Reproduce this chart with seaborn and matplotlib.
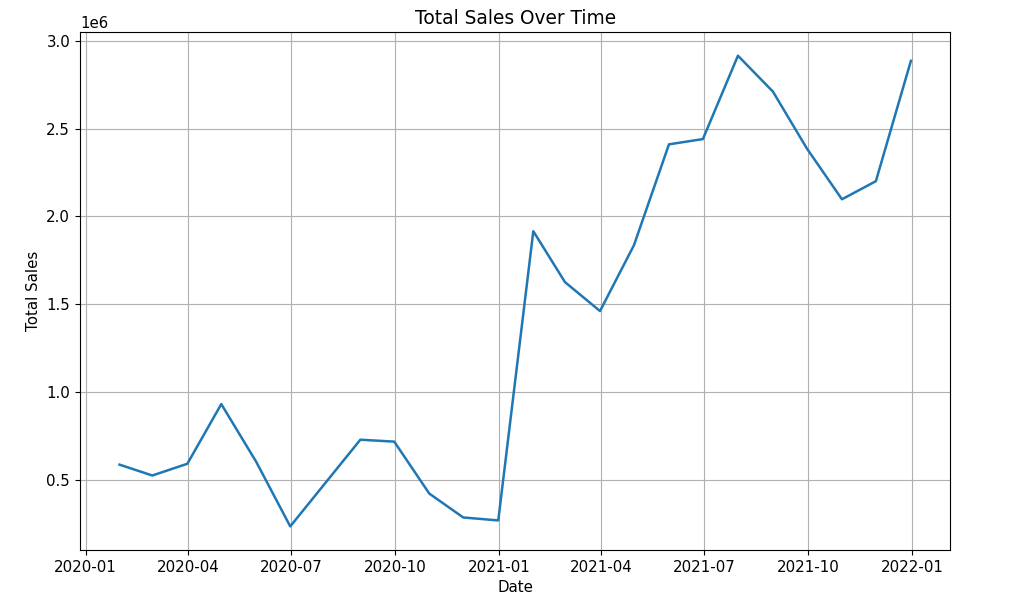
import matplotlib

matplotlib.use("Agg")

import matplotlib.pyplot as plt
import pandas as pd
import seaborn as sns

# month-end dates, Jan 2020 .. Dec 2021
dates = pd.date_range("2020-01-31", "2021-12-31", freq="ME")
total_sales = [
    585000, 523000, 590000, 930000, 600000, 233000,
    480000, 727000, 716000, 420000, 284000, 267000,
    1915000, 1625000, 1460000, 1835000, 2410000, 2440000,
    2915000, 2710000, 2386000, 2097000, 2200000, 2886000,
]

df = pd.DataFrame({"Date": dates, "Total Sales": total_sales})

plt.rcParams["font.size"] = 10.8
plt.rcParams["axes.titlesize"] = 13.4

fig = plt.figure(figsize=(10.29, 6.07), dpi=100)
ax = fig.add_axes([0.0777, 0.094, 0.846, 0.853])
sns.lineplot(data=df, x="Date", y="Total Sales", ax=ax, color="#1f77b4", linewidth=1.8)
ax.set_title("Total Sales Over Time")
ax.set_xlabel("Date")
ax.set_ylabel("Total Sales")
ax.grid(True)

fig.savefig("out.png", dpi=100)
plt.close(fig)
